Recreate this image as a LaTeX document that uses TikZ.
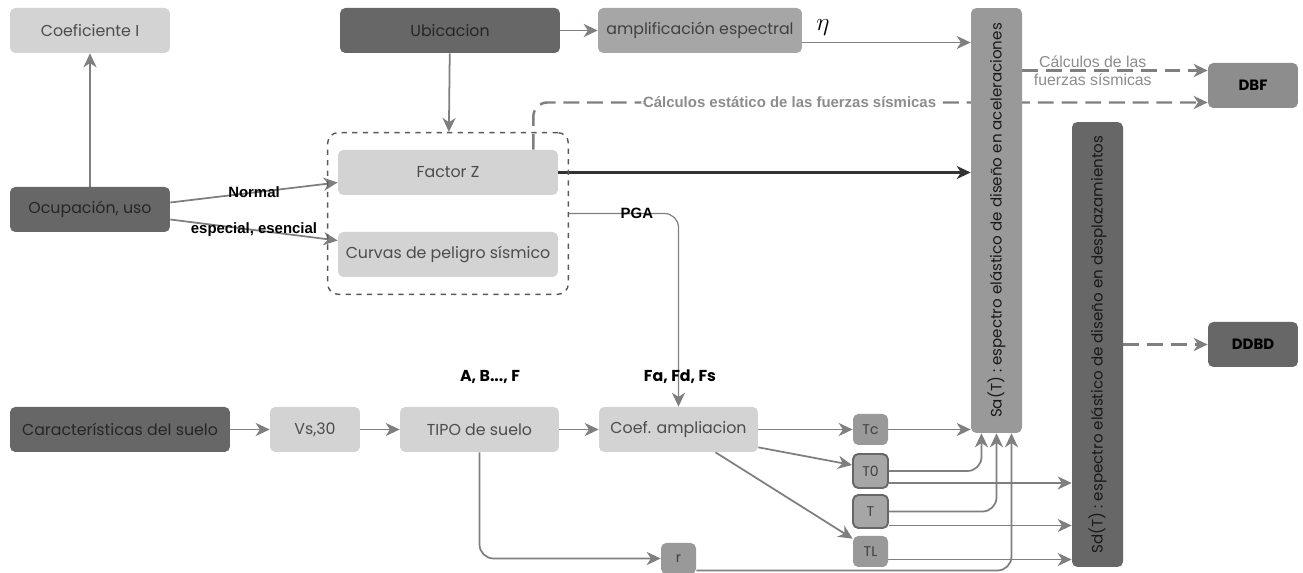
\documentclass[tikz,border=0pt]{standalone}
\usepackage{fontspec}
\setmainfont{Poppins}
\newfontfamily\arialfont{Liberation Sans}
\usetikzlibrary{arrows.meta,calc,fit,backgrounds}
\definecolor{boxdark}{HTML}{676767}
\definecolor{boxmid}{HTML}{A6A6A6}
\definecolor{boxsmall}{HTML}{999999}
\definecolor{boxlight}{HTML}{D3D3D3}
\definecolor{linegray}{HTML}{7F7F7F}
\tikzstyle{box} = [rectangle, rounded corners=3pt, minimum height=0.9cm, text centered, inner sep=2pt, font=\fontsize{9}{11}\selectfont]
\tikzstyle{darkbox} = [box, fill=boxdark, text=black!85]
\tikzstyle{lightbox} = [box, fill=boxlight, text=black!70]
\tikzstyle{midbox} = [box, fill=boxmid, text=black!75]
\tikzstyle{smallbox} = [box, fill=boxsmall, text=black!75, minimum width=0.7cm, minimum height=0.62cm, font=\fontsize{8}{10}\selectfont]
\tikzstyle{ringbox} = [smallbox, fill=boxmid, draw=boxdark, line width=1.1pt]
\tikzstyle{tallbox} = [rectangle, rounded corners=3pt, minimum width=1.02cm, text=black!90, font=\fontsize{8.6}{10}\selectfont]
\tikzstyle{flow} = [draw=linegray, line width=1pt, -{Stealth[length=8pt,width=7.5pt,inset=2.5pt]}]
\tikzstyle{thinflow} = [flow, line width=0.7pt]
\tikzstyle{dashflow} = [flow, line width=1.4pt, dash pattern=on 9pt off 4.5pt]
\tikzstyle{edgetext} = [font=\arialfont\bfseries\fontsize{8.5}{9}\selectfont, text=black, inner sep=1pt]
\tikzstyle{calctext} = [font=\arialfont\fontsize{9}{10}\selectfont, text=black!45, align=center, inner sep=1pt]

\begin{document}
\begin{tikzpicture}[x=0.02cm, y=-0.02cm]
\useasboundingbox (0,0) rectangle (1303,573);

% top row
\node (coefI) [lightbox, minimum width=3.2cm] at (90,30.5) {Coeficiente I};
\node (ubic) [darkbox, minimum width=4.4cm] at (450,30.5) {Ubicacion};
\node (amp) [midbox, minimum width=4.08cm] at (700,30.5) {amplificación espectral};
\node (eta) at (823,28) {\Large$\eta$};

% spectra and methods
\node (Sa) [tallbox, fill=boxsmall, minimum height=8.5cm] at (996.5,220.5)
  {\rotatebox{90}{Sa(T) : espectro elástico de diseño en aceleraciones}};
\node (Sd) [tallbox, fill=boxdark, minimum height=8.9cm] at (1097.5,344.5)
  {\rotatebox{90}{Sd(T) : espectro elástico de diseño en desplazamientos}};
\node (dbf) [box, fill=boxdark!75, minimum width=1.8cm, font=\bfseries\fontsize{8.5}{10}\selectfont] at (1253,85.5) {DBF};
\node (ddbd) [box, fill=boxdark, minimum width=1.8cm, font=\bfseries\fontsize{8.5}{10}\selectfont] at (1253,344.5) {DDBD};

% hazard
\node (ocup) [darkbox, minimum width=3.2cm] at (90,209.5) {Ocupación, uso};
\node (fz) [lightbox, minimum width=4.4cm] at (448,172.5) {Factor Z};
\node (curv) [lightbox, minimum width=4.4cm] at (448,254.5) {Curvas de peligro sísmico};
\node (zbox) [draw=black!65, dashed, line width=0.8pt, rounded corners=6pt, inner xsep=0.2cm, inner ysep=0.34cm, fit=(fz)(curv)] {};

% soil row
\node (suelo) [darkbox, minimum width=4.4cm] at (120,429.5) {Características del suelo};
\node (vs) [lightbox, minimum width=1.8cm] at (315,429.5) {Vs,30};
\node (tipo) [lightbox, minimum width=3.18cm] at (479.5,429.5) {TIPO de suelo};
\node (coef) [lightbox, minimum width=3.18cm] at (678.5,429.5) {Coef. ampliacion};
\node (abf) [font=\bfseries\fontsize{9}{10}\selectfont] at (490,377) {A, B..., F};
\node (fafs) [font=\bfseries\fontsize{9}{10}\selectfont] at (680,377) {Fa, Fd, Fs};

% periods
\node (Tc) [smallbox] at (870.5,429.5) {Tc};
\node (T0) [ringbox, minimum height=0.68cm] at (870.5,471) {T0};
\node (T) [ringbox, minimum height=0.66cm] at (870.5,511.5) {T};
\node (TL) [smallbox] at (870.5,551.5) {TL};
\node (r) [smallbox] at (678.5,558.5) {r};

\coordinate (ampout) at ($(amp.east)+(0,12)$);
\coordinate (fzup) at ($(fz.north east)+(-25,0)$);
\coordinate (dbfin) at ($(dbf.west)+(0,17)$);
\coordinate (dbfup) at ($(dbf.west)+(0,-15)$);
\coordinate (t0low) at ($(T0.east)+(0,12)$);
\coordinate (tlow) at ($(T.east)+(0,14)$);
\coordinate (tlout) at ($(TL.east)+(0,8)$);
\coordinate (rout) at ($(r.east)+(0,12)$);

\begin{scope}[on background layer]
\draw [flow] (ocup) -- (coefI);
\draw [flow] (ubic) -- (amp);
\draw [flow] (ubic) -- (zbox);
\draw [flow] (ampout) -- (ampout -| Sa.west);
\draw [flow] ($(ocup.east)+(0,-7)$) -- node[edgetext]{Normal} ($(fz.west)+(0,10)$);
\draw [flow] ($(ocup.east)+(0,10)$) -- node[edgetext]{especial, esencial} ($(curv.west)+(0,-14)$);
\draw [flow, draw=black!80, line width=1.2pt] (fz.east) -- (fz.east -| Sa.west);
\draw [dashflow, rounded corners=8pt] (fzup) |- node[pos=0.69, fill=white, edgetext, text=black!45] {Cálculos estático de las fuerzas sísmicas} (dbfin);
\draw [dashflow] (dbfup -| Sa.east) -- node[pos=0.38, calctext]{Cálculos de las\\fuerzas sísmicas} (dbfup);
\draw [dashflow] (Sd.east) -- (ddbd.west);
\draw [thinflow, rounded corners=8pt] (zbox.east) -| node[pos=0.31, edgetext]{PGA} (coef.north);

\draw [flow] (suelo) -- (vs);
\draw [flow] (vs) -- (tipo);
\draw [flow] (tipo) -- (coef);
\draw [flow] (coef) -- (Tc);
\draw [flow] ($(coef.south east)+(0,-5)$) -- ($(T0.west)+(0,-6)$);
\draw [flow] ($(coef.south)+(37,0)$) -- ($(TL.north west)+(0,3)$);
\draw [flow, rounded corners=8pt] (tipo.south) |- (r.west);

\draw [flow] (Tc.east) -- (Tc.east -| Sa.west);
\draw [flow, rounded corners=8pt] (T0.east) -| ($(Sa.south)+(-15,0)$);
\draw [flow] (t0low) -- (t0low -| Sd.west);
\draw [flow, rounded corners=8pt] (T.east) -| (Sa.south);
\draw [flow] (tlow) -- (tlow -| Sd.west);
\draw [flow] (tlout) -- (tlout -| Sd.west);
\draw [flow, rounded corners=8pt] (rout) -| ($(Sa.south)+(15,0)$);
\end{scope}
\end{tikzpicture}
\end{document}
